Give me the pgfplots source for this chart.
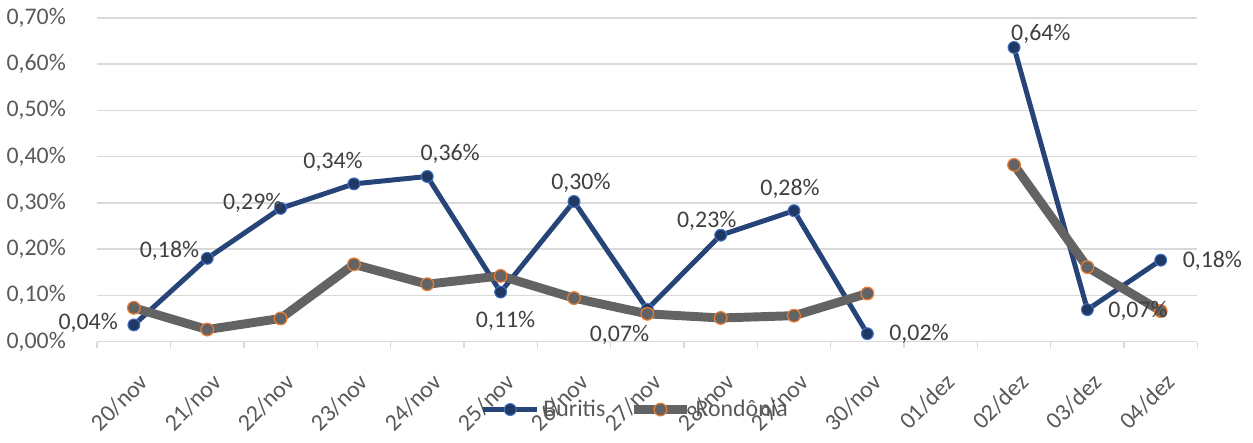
\documentclass[border=0pt]{standalone}
\usepackage{pgfplots}
\pgfplotsset{compat=1.18}
\usepackage{pgfplotstable}
\usepackage{fontspec}
\setmainfont{Carlito}

\definecolor{buritis}{HTML}{264478}
\definecolor{buritismk}{HTML}{203864}
\definecolor{buritisedge}{HTML}{4472C4}
\definecolor{rondonia}{HTML}{636363}
\definecolor{rondedge}{HTML}{ED7D31}
\definecolor{gridc}{HTML}{D9D9D9}
\definecolor{txt}{HTML}{595959}
\definecolor{lbl}{HTML}{404040}

% dx, dy: label offset from the point (pt)
\pgfplotstableread{
x y dx dy
0 0.036 -23 1
1 0.180 -19 3.5
2 0.288 -14 3
3 0.341 -10.5 11
4 0.357 11.5 11.5
5 0.107 2.5 -14.5
6 0.303 3.5 9.5
7 0.070 -14 -13
8 0.230 -7 7
9 0.283 -2 11
10 0.017 26 0
11 nan 0 0
12 0.636 13.5 7
13 0.069 25.5 -0.5
14 0.176 26 -0.5
}\tabBuritis

\pgfplotstableread{
x y
0 0.073
1 0.026
2 0.050
3 0.167
4 0.124
5 0.142
6 0.094
7 0.060
8 0.051
9 0.056
10 0.104
11 nan
12 0.382
13 0.161
14 0.066
}\tabRondonia

\begin{document}
\begin{tikzpicture}
\begin{axis}[
  name=ax,
  scale only axis,
  width=554pt, height=163pt,
  xmin=-0.5, xmax=14.5,
  ymin=0, ymax=0.7,
  xtick={0,...,14},
  xticklabels={20/nov,21/nov,22/nov,23/nov,24/nov,25/nov,26/nov,27/nov,28/nov,29/nov,30/nov,01/dez,02/dez,03/dez,04/dez},
  major x tick style={draw=none},
  minor xtick={-0.5,0.5,...,14.5},
  minor x tick style={gridc, line width=0.75pt},
  minor tick length=3pt,
  tick align=outside,
  ytick={0,0.1,0.2,0.3,0.4,0.5,0.6,0.7},
  ytick style={draw=none},
  ymajorgrids,
  grid style={gridc, line width=0.75pt},
  axis x line*=bottom,
  axis y line*=left,
  x axis line style={gridc, line width=0.75pt, -},
  y axis line style={draw=none},
  /pgf/number format/assume math mode=true,
  tick label style={font=\fontsize{12}{14}\selectfont, text=txt},
  yticklabel={\pgfmathprintnumber[fixed,fixed zerofill,precision=2,use comma]{\tick}\%},
  yticklabel style={xshift=-8pt},
  xticklabel style={yshift=-6pt, xshift=2pt, rotate=45, anchor=north east},
  unbounded coords=jump,
  clip=false,
  legend style={at={(0.49,-0.21)}, anchor=center, draw=none, fill=none,
    font=\fontsize{12}{14}\selectfont, text=txt, legend columns=2,
    /tikz/every even column/.append style={column sep=10pt}},
  legend cell align=left,
  legend image code/.code={\draw[mark repeat=2,mark phase=2] plot coordinates {(0pt,0pt) (13.5pt,0pt) (27pt,0pt)};},
]
\addplot [buritis, line width=2.5pt, mark=*, mark size=3pt,
  mark options={fill=buritismk, draw=buritisedge, line width=0.5pt}]
  table [x=x, y=y] {\tabBuritis};
\addlegendentry{Buritis}
\addplot [rondonia, line width=4.5pt, mark=*, mark size=3.2pt,
  mark options={fill=rondonia, draw=rondedge, line width=0.6pt}]
  table [x=x, y=y] {\tabRondonia};
\addlegendentry{Rondônia}
\addplot [draw=none, mark=none, forget plot,
  point meta=y,
  visualization depends on={\thisrow{dx} \as \dx},
  visualization depends on={\thisrow{dy} \as \dy},
  nodes near coords={\pgfmathprintnumber[fixed,fixed zerofill,precision=2,use comma]{\pgfplotspointmeta}\%},
  every node near coord/.append style={anchor=center, xshift=\dx pt, yshift=\dy pt,
    font=\fontsize{12}{14}\selectfont, text=lbl}]
  table [x=x, y=y] {\tabBuritis};
\end{axis}
\path ([xshift=-44.5pt, yshift=-45pt]ax.south west) rectangle ([xshift=28pt, yshift=9pt]ax.north east);
\end{tikzpicture}
\end{document}
